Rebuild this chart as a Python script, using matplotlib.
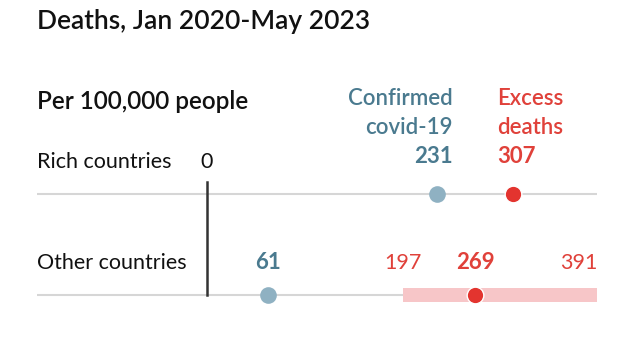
import matplotlib.pyplot as plt
import numpy as np

# data
groups = ['Rich countries', 'Other countries']
confirmed = [231, 61]
excess = [307, 269]
excess_lo = [None, 197]
excess_hi = [None, 391]

blue_txt = '#4a7a8f'
blue_dot = '#8fb1c2'
red = '#e3342f'
red_txt = '#e0413a'
pink = '#f7c6c8'
grey = '#d6d6d6'
font = 'Lato'

plt.rcParams['font.family'] = [font, 'DejaVu Sans']

fig = plt.figure(figsize=(6.27, 3.38), dpi=100)
# axes spans 37..597 px horizontally, full height vertically
ax = fig.add_axes([37/627, 0, 560/627, 1])
ax.set_xlim(-170, 391)
ax.set_ylim(144/101, -194/101)
ax.axis('off')

for i, g in enumerate(groups):
    ax.plot([-170, 391], [i, i], color=grey, lw=1.5, zorder=1, solid_capstyle='butt')
    ax.text(-170, i - 0.32, g, fontsize=15.5, va='center',
            ha='left', color='#111111')
    if excess_lo[i] is not None:
        ax.barh(i, excess_hi[i] - excess_lo[i], left=excess_lo[i], height=0.14,
                color=pink, zorder=2)
        ax.text(excess_lo[i], i - 0.32, str(excess_lo[i]), fontsize=15.5,
                va='center', ha='center', color=red_txt)
        ax.text(excess_hi[i], i - 0.32, str(excess_hi[i]), fontsize=15.5,
                va='center', ha='right', color=red_txt)
    ax.plot(confirmed[i], i, 'o', ms=12, color=blue_dot, mec='none', zorder=3)
    ax.plot(excess[i], i, 'o', ms=12, color=red, mec='white', mew=1, zorder=3)

# zero line
ax.plot([0, 0], [-0.12, 1.0], color='#333333', lw=1.8, zorder=2)
ax.text(0, -0.32, '0', fontsize=15.5, va='center', ha='center',
        color='#111111')

# header labels for rich row
fs = 16
ax.text(confirmed[0] + 15, -0.95, 'Confirmed', fontsize=fs, fontweight='semibold',
        va='center', ha='right', color=blue_txt)
ax.text(confirmed[0] + 15, -0.66, 'covid-19', fontsize=fs, fontweight='semibold',
        va='center', ha='right', color=blue_txt)
ax.text(confirmed[0] + 15, -0.37, str(confirmed[0]), fontsize=fs, fontweight='bold',
        va='center', ha='right', color=blue_txt)
ax.text(excess[0] - 16, -0.95, 'Excess', fontsize=fs, fontweight='semibold',
        va='center', ha='left', color=red_txt)
ax.text(excess[0] - 16, -0.66, 'deaths', fontsize=fs, fontweight='semibold',
        va='center', ha='left', color=red_txt)
ax.text(excess[0] - 16, -0.37, str(excess[0]), fontsize=fs, fontweight='bold',
        va='center', ha='left', color=red_txt)

# values for other row
ax.text(confirmed[1], 1 - 0.32, str(confirmed[1]), fontsize=fs, fontweight='bold',
        va='center', ha='center', color=blue_txt)
ax.text(excess[1], 1 - 0.32, str(excess[1]), fontsize=fs, fontweight='bold',
        va='center', ha='center', color=red_txt)

fig.text(37/627, 1 - 22/338, 'Deaths, Jan 2020-May 2023', fontsize=19,
         fontweight='semibold', va='center', ha='left', color='#111111')
fig.text(37/627, 1 - 101/338, 'Per 100,000 people', fontsize=17.5,
         fontweight='semibold', va='center', ha='left', color='#111111')

fig.savefig('out.png', dpi=100)
